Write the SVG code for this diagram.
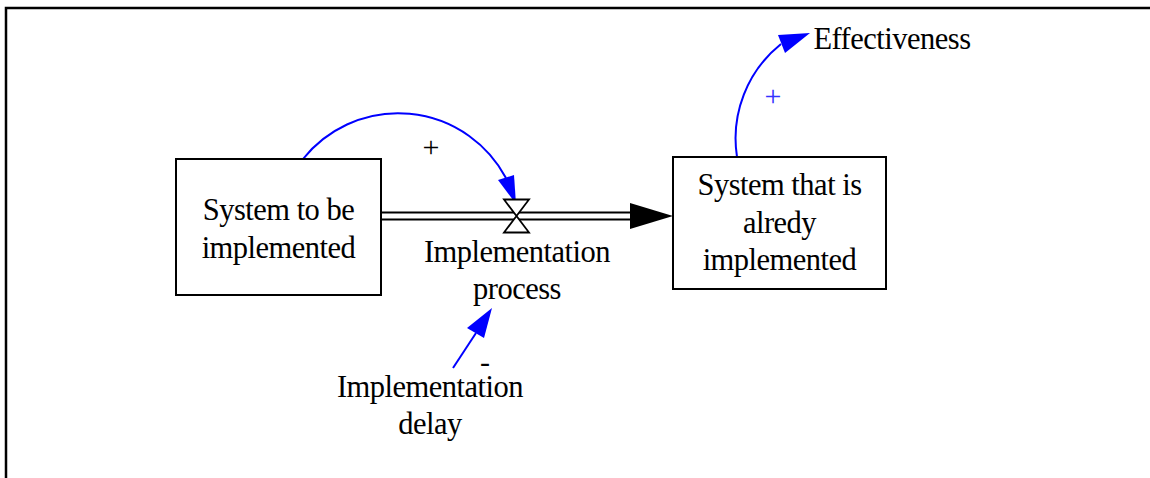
<svg xmlns="http://www.w3.org/2000/svg" width="1150" height="478" viewBox="0 0 1150 478">
<style>
  .lbl { font-family: "Liberation Serif", "Times New Roman", serif; font-size: 30.5px; letter-spacing: -0.5px; fill: #000; text-anchor: middle; }
  .sign { font-family: "Liberation Serif", "Times New Roman", serif; font-size: 30px; text-anchor: middle; }
  .box { fill: #fff; stroke: #000; stroke-width: 2; }
  .link { fill: none; stroke: #0000ff; stroke-width: 2; }
  .head { fill: #0000ff; stroke: none; }
  .pipe { fill: none; stroke: #000; stroke-width: 2; }
</style>
<rect x="0" y="0" width="1150" height="478" fill="#fff"/>
<path d="M6,478 V8 H1150" fill="none" stroke="#000" stroke-width="2.5"/>

<g id="connectors">
  <!-- flow pipe -->
  <line class="pipe" x1="381" y1="212.5" x2="632" y2="212.5"/>
  <line class="pipe" x1="381" y1="219.5" x2="632" y2="219.5"/>
  <polygon points="630,203 673,216 630,229" fill="#000"/>
  <!-- System to be implemented -> Implementation process -->
  <path class="link" d="M303,159 A122,122 0 0,1 506,178"/>
  <polygon class="head" points="498,180 514,175 516,204"/>
  <!-- System that is alredy implemented -> Effectiveness -->
  <path class="link" d="M737,157 A121,121 0 0,1 781,44"/>
  <polygon class="head" points="778,35 785,53 810,33"/>
  <!-- Implementation delay -> Implementation process -->
  <line class="link" x1="453" y1="368" x2="476" y2="333"/>
  <polygon class="head" points="492,308 467,328 484,338"/>
  <text class="sign" x="431" y="157" fill="#000">+</text>
  <text class="sign" x="773" y="106" fill="#3333ff">+</text>
  <text class="sign" x="485" y="372" fill="#000" font-size="26">-</text>
</g>

<g id="stock-to-be-implemented">
  <rect class="box" x="176" y="159" width="205" height="136"/>
  <text class="lbl" x="278.5" y="220">System to be</text>
  <text class="lbl" x="278.5" y="258">implemented</text>
</g>

<g id="stock-already-implemented">
  <rect class="box" x="673" y="157" width="213" height="132"/>
  <text class="lbl" x="779.5" y="195">System that is</text>
  <text class="lbl" x="779.5" y="232.5">alredy</text>
  <text class="lbl" x="779.5" y="270">implemented</text>
</g>

<g id="flow-implementation-process">
  <polygon points="504,199.5 529,199.5 516.5,216 504,232.5 529,232.5 516.5,216" fill="#fff" stroke="#000" stroke-width="1.8" stroke-linejoin="miter"/>
  <text class="lbl" x="517" y="262">Implementation</text>
  <text class="lbl" x="517" y="299">process</text>
</g>

<g id="aux-implementation-delay">
  <text class="lbl" x="430" y="397">Implementation</text>
  <text class="lbl" x="430" y="434">delay</text>
</g>

<g id="aux-effectiveness">
  <text class="lbl" x="892" y="49">Effectiveness</text>
</g>
</svg>
